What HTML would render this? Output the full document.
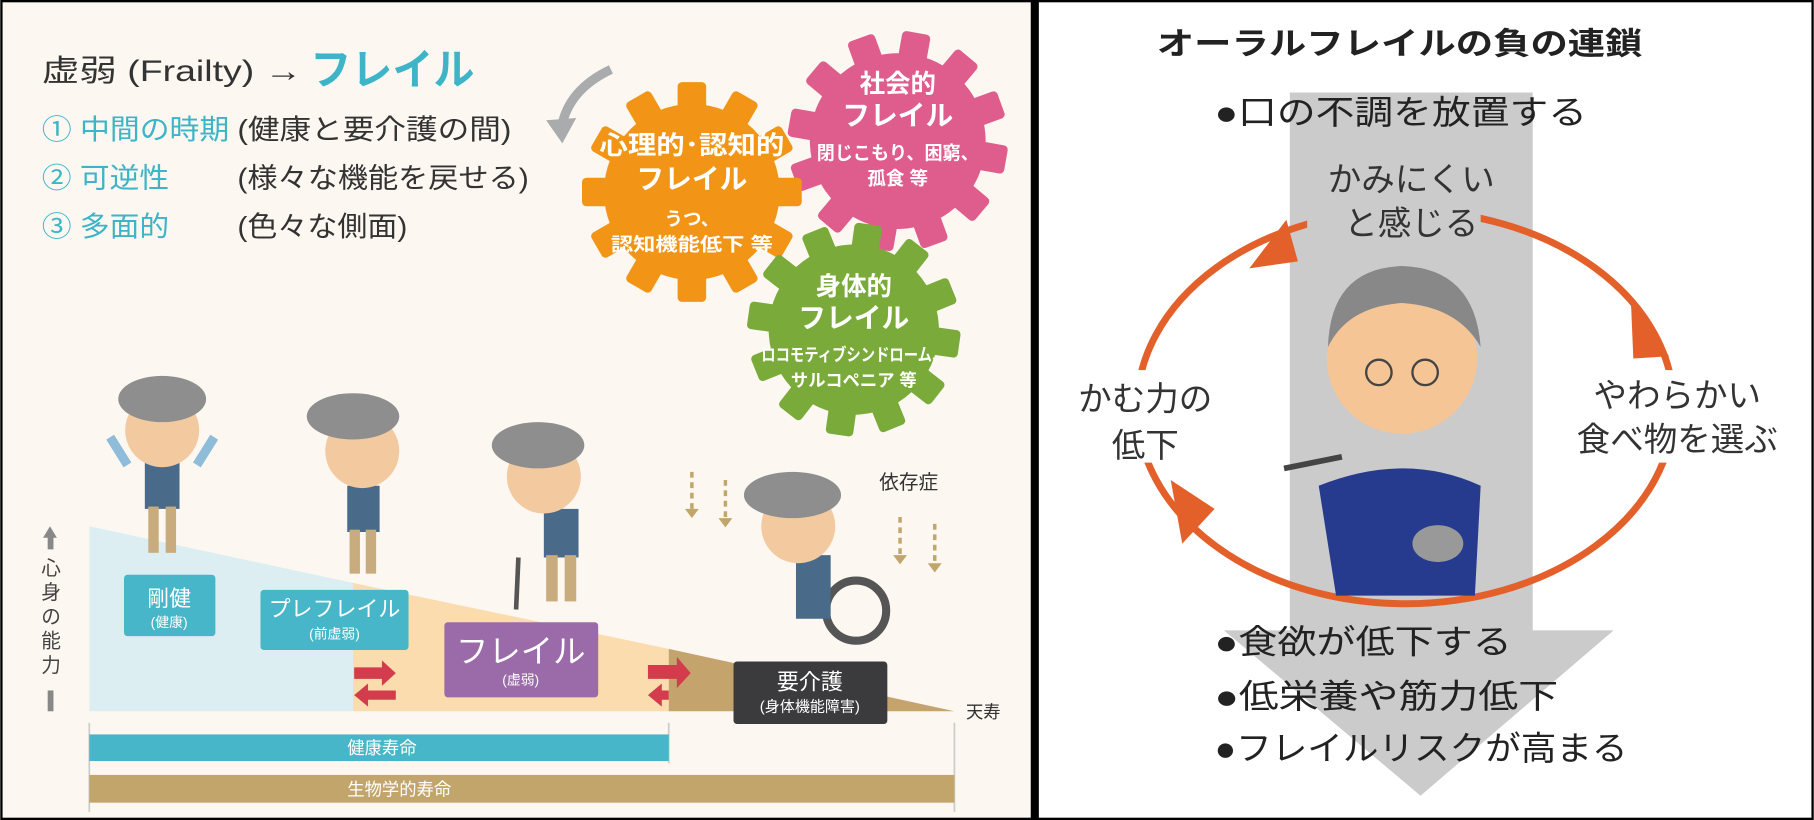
<!DOCTYPE html>
<html><head><meta charset="utf-8"><style>
html,body{margin:0;padding:0;background:#fff}
svg{display:block}
text{font-family:"Liberation Sans","Noto Sans CJK JP",sans-serif}
</style></head><body>
<svg width="1814" height="820" viewBox="0 0 1568 709" xmlns="http://www.w3.org/2000/svg">
<defs>
<g id="teeth"><rect x="-13" y="-100" width="26" height="30" rx="4"/><rect x="-13" y="70" width="26" height="30" rx="4"/><rect x="-100" y="-13" width="30" height="26" rx="4"/><rect x="70" y="-13" width="30" height="26" rx="4"/></g>
<g id="gear"><circle r="80"/><use href="#teeth"/><use href="#teeth" transform="rotate(30)"/><use href="#teeth" transform="rotate(60)"/></g>
</defs>
<rect width="1568" height="709" fill="#000"/>
<rect x="2" y="2" width="889" height="705" fill="#fcf8f1"/>
<rect x="898" y="2" width="668" height="705" fill="#fff"/>

<!-- left title -->
<text x="36" y="70" font-size="26" fill="#333" textLength="225" lengthAdjust="spacingAndGlyphs">虚弱 (Frailty) →</text>
<text x="268" y="73" font-size="37" font-weight="bold" fill="#3db4c7" textLength="142" lengthAdjust="spacingAndGlyphs">フレイル</text>
<g font-size="24">
<text x="36" y="120" fill="#3db4c7" textLength="162" lengthAdjust="spacingAndGlyphs">① 中間の時期</text><text x="205" y="120" fill="#333" textLength="237" lengthAdjust="spacingAndGlyphs">(健康と要介護の間)</text>
<text x="36" y="162" fill="#3db4c7" textLength="110" lengthAdjust="spacingAndGlyphs">② 可逆性</text><text x="205" y="162" fill="#333" textLength="252" lengthAdjust="spacingAndGlyphs">(様々な機能を戻せる)</text>
<text x="36" y="204" fill="#3db4c7" textLength="110" lengthAdjust="spacingAndGlyphs">③ 多面的</text><text x="205" y="204" fill="#333" textLength="147" lengthAdjust="spacingAndGlyphs">(色々な側面)</text>
</g>
<path d="M528 60 Q490 78 485 112" stroke="#a9abad" stroke-width="8" fill="none"/>
<path d="M472 104 L486 124 L498 102 Z" fill="#a9abad"/>

<!-- gears -->
<g fill="#de5d8d"><use href="#gear" transform="translate(776,122) scale(0.95) rotate(10)"/></g>
<g fill="#f29516"><use href="#gear" transform="translate(598,166) scale(0.95)"/></g>
<g fill="#7aab3a"><use href="#gear" transform="translate(738,285) scale(0.92) rotate(8)"/></g>
<g fill="#fff" font-weight="bold" text-anchor="middle">
<text x="776" y="80" font-size="22">社会的</text><text x="776" y="108" font-size="24">フレイル</text>
<text x="776" y="138" font-size="16" textLength="140" lengthAdjust="spacingAndGlyphs">閉じこもり、困窮、</text><text x="776" y="160" font-size="16">孤食 等</text>
<text x="598" y="133" font-size="22" textLength="160" lengthAdjust="spacingAndGlyphs">心理的･認知的</text><text x="598" y="163" font-size="24">フレイル</text>
<text x="598" y="195" font-size="16">うつ、</text><text x="598" y="217" font-size="16" textLength="140" lengthAdjust="spacingAndGlyphs">認知機能低下 等</text>
<text x="738" y="255" font-size="22">身体的</text><text x="738" y="283" font-size="24">フレイル</text>
<text x="738" y="312" font-size="15" textLength="160" lengthAdjust="spacingAndGlyphs">ロコモティブシンドローム、</text><text x="738" y="334" font-size="15">サルコペニア 等</text>
</g>

<!-- chart -->
<polygon points="77,455 305,504 305,615 77,615" fill="#dceef2"/>
<polygon points="305,504 578,561 578,615 305,615" fill="#fbdcae"/>
<polygon points="578,561 825,615 578,615" fill="#c4a46c"/>
<g stroke="#ccc" stroke-width="1.5"><line x1="77" y1="625" x2="77" y2="702"/><line x1="825" y1="625" x2="825" y2="702"/><line x1="578" y1="625" x2="578" y2="660"/></g>
<rect x="77" y="635" width="501" height="23" fill="#46b6c8"/>
<rect x="77" y="670" width="748" height="24" fill="#c2a56a"/>
<g fill="#fff" font-size="15" text-anchor="middle"><text x="330" y="652">健康寿命</text><text x="345" y="688">生物学的寿命</text></g>
<text x="835" y="621" font-size="15" fill="#333">天寿</text>
<text x="760" y="423" font-size="17" fill="#333">依存症</text>
<g fill="#888"><rect x="41" y="463" width="5" height="12"/><path d="M37 465 L43 455 L49 465Z"/><rect x="41" y="597" width="5" height="18"/></g>
<g font-size="17" fill="#444" text-anchor="middle"><text x="44" y="497">心</text><text x="44" y="518">身</text><text x="44" y="539">の</text><text x="44" y="560">能</text><text x="44" y="581">力</text></g>

<rect x="107" y="497" width="79" height="53" rx="3" fill="#46b6c8"/>
<rect x="225" y="510" width="128" height="52" rx="3" fill="#46b6c8"/>
<rect x="384" y="538" width="133" height="65" rx="3" fill="#9b6aa9"/>
<rect x="634" y="572" width="133" height="54" rx="3" fill="#3b3b3d"/>
<g fill="#fff" text-anchor="middle">
<text x="146" y="524" font-size="19">剛健</text><text x="146" y="542" font-size="12">(健康)</text>
<text x="289" y="533" font-size="19">プレフレイル</text><text x="289" y="552" font-size="12">(前虚弱)</text>
<text x="450" y="573" font-size="28">フレイル</text><text x="450" y="592" font-size="12">(虚弱)</text>
<text x="700" y="596" font-size="19">要介護</text><text x="700" y="615" font-size="13">(身体機能障害)</text>
</g>
<g fill="#d23c4c">
<path d="M306 577 H330 V571 L342 582 L330 593 V587 H306Z"/><path d="M342 597 H318 V591 L306 601 L318 611 V605 H342Z"/>
<path d="M560 575 H585 V568 L597 582 L585 595 V587 H560Z"/><path d="M578 597 H572 V591 L560 601 L572 611 V605 H578Z"/>
</g>
<g stroke="#c2a56a" stroke-width="3" stroke-dasharray="5,4" fill="none"><line x1="598" y1="408" x2="598" y2="440"/><line x1="627" y1="415" x2="627" y2="448"/><line x1="778" y1="447" x2="778" y2="480"/><line x1="808" y1="453" x2="808" y2="487"/></g>
<g fill="#c2a56a"><path d="M592 440h12l-6 8z"/><path d="M621 448h12l-6 8z"/><path d="M772 480h12l-6 8z"/><path d="M802 487h12l-6 8z"/></g>

<!-- figures -->
<g>
<rect x="125" y="400" width="30" height="40" fill="#4a6a8a"/><rect x="128" y="438" width="9" height="40" fill="#c9ac7d"/><rect x="143" y="438" width="9" height="40" fill="#c9ac7d"/>
<circle cx="140" cy="372" r="32" fill="#f3c9a0"/><ellipse cx="140" cy="345" rx="38" ry="20" fill="#8e8e8e"/>
<path d="M110 402 L95 378 M170 402 L185 378" stroke="#8fbcd9" stroke-width="8"/>
<rect x="300" y="420" width="28" height="40" fill="#4a6a8a"/><rect x="302" y="458" width="9" height="38" fill="#c9ac7d"/><rect x="316" y="458" width="9" height="38" fill="#c9ac7d"/>
<circle cx="313" cy="390" r="32" fill="#f3c9a0"/><ellipse cx="305" cy="360" rx="40" ry="20" fill="#8e8e8e"/>
<rect x="470" y="440" width="30" height="42" fill="#4a6a8a"/><rect x="472" y="480" width="10" height="40" fill="#c9ac7d"/><rect x="488" y="480" width="10" height="40" fill="#c9ac7d"/>
<circle cx="470" cy="412" r="32" fill="#f3c9a0"/><ellipse cx="465" cy="385" rx="40" ry="20" fill="#8e8e8e"/>
<line x1="448" y1="482" x2="446" y2="527" stroke="#555" stroke-width="4"/>
<circle cx="740" cy="528" r="26" fill="none" stroke="#555" stroke-width="7"/><rect x="688" y="480" width="30" height="55" fill="#4a6a8a"/>
<circle cx="690" cy="455" r="32" fill="#f3c9a0"/><ellipse cx="685" cy="428" rx="42" ry="20" fill="#8e8e8e"/>
</g>

<!-- right panel -->
<text x="1000" y="47" font-size="27" font-weight="bold" fill="#222" textLength="420" lengthAdjust="spacingAndGlyphs">オーラルフレイルの負の連鎖</text>
<path d="M1115 80 H1325 V545 H1395 L1228 688 L1058 545 H1115Z" fill="#cbcbcb"/>
<ellipse cx="1215" cy="352" rx="232" ry="170" fill="none" stroke="#e4602a" stroke-width="6"/>
<rect x="1130" y="170" width="150" height="40" fill="#cbcbcb"/>
<rect x="950" y="320" width="100" height="80" fill="#fff"/><rect x="1345" y="320" width="200" height="80" fill="#fff"/>
<g fill="#e4602a"><path d="M1080 232 L1112 190 L1122 226Z"/><path d="M1410 262 L1443 308 L1412 310Z"/><path d="M1022 470 L1012 415 L1050 440Z"/></g>
<!-- person -->
<path d="M1140 420 Q1215 390 1280 420 L1275 515 H1155Z" fill="#263a8e"/>
<circle cx="1212" cy="310" r="65" fill="#f5c596"/>
<path d="M1148 300 Q1150 232 1212 230 Q1275 232 1280 300 Q1260 265 1212 262 Q1165 265 1148 300Z" fill="#888"/>
<circle cx="1192" cy="322" r="11" fill="none" stroke="#444" stroke-width="2"/><circle cx="1232" cy="322" r="11" fill="none" stroke="#444" stroke-width="2"/>
<ellipse cx="1243" cy="470" rx="22" ry="16" fill="#999"/>
<line x1="1110" y1="405" x2="1160" y2="395" stroke="#444" stroke-width="5"/>
<g font-size="29" fill="#222" lengthAdjust="spacingAndGlyphs">
<text x="1050" y="107" textLength="322" lengthAdjust="spacingAndGlyphs">●口の不調を放置する</text>
<text x="1050" y="565" textLength="257" lengthAdjust="spacingAndGlyphs">●食欲が低下する</text>
<text x="1050" y="612" textLength="297" lengthAdjust="spacingAndGlyphs">●低栄養や筋力低下</text>
<text x="1050" y="657" textLength="357" lengthAdjust="spacingAndGlyphs">●フレイルリスクが高まる</text>
</g>
<g font-size="29" fill="#333" text-anchor="middle">
<text x="1220" y="165">かみにくい</text><text x="1220" y="203">と感じる</text>
<text x="990" y="355">かむ力の</text><text x="990" y="395">低下</text>
<text x="1450" y="352">やわらかい</text><text x="1450" y="390">食べ物を選ぶ</text>
</g>
</svg>
</body></html>
